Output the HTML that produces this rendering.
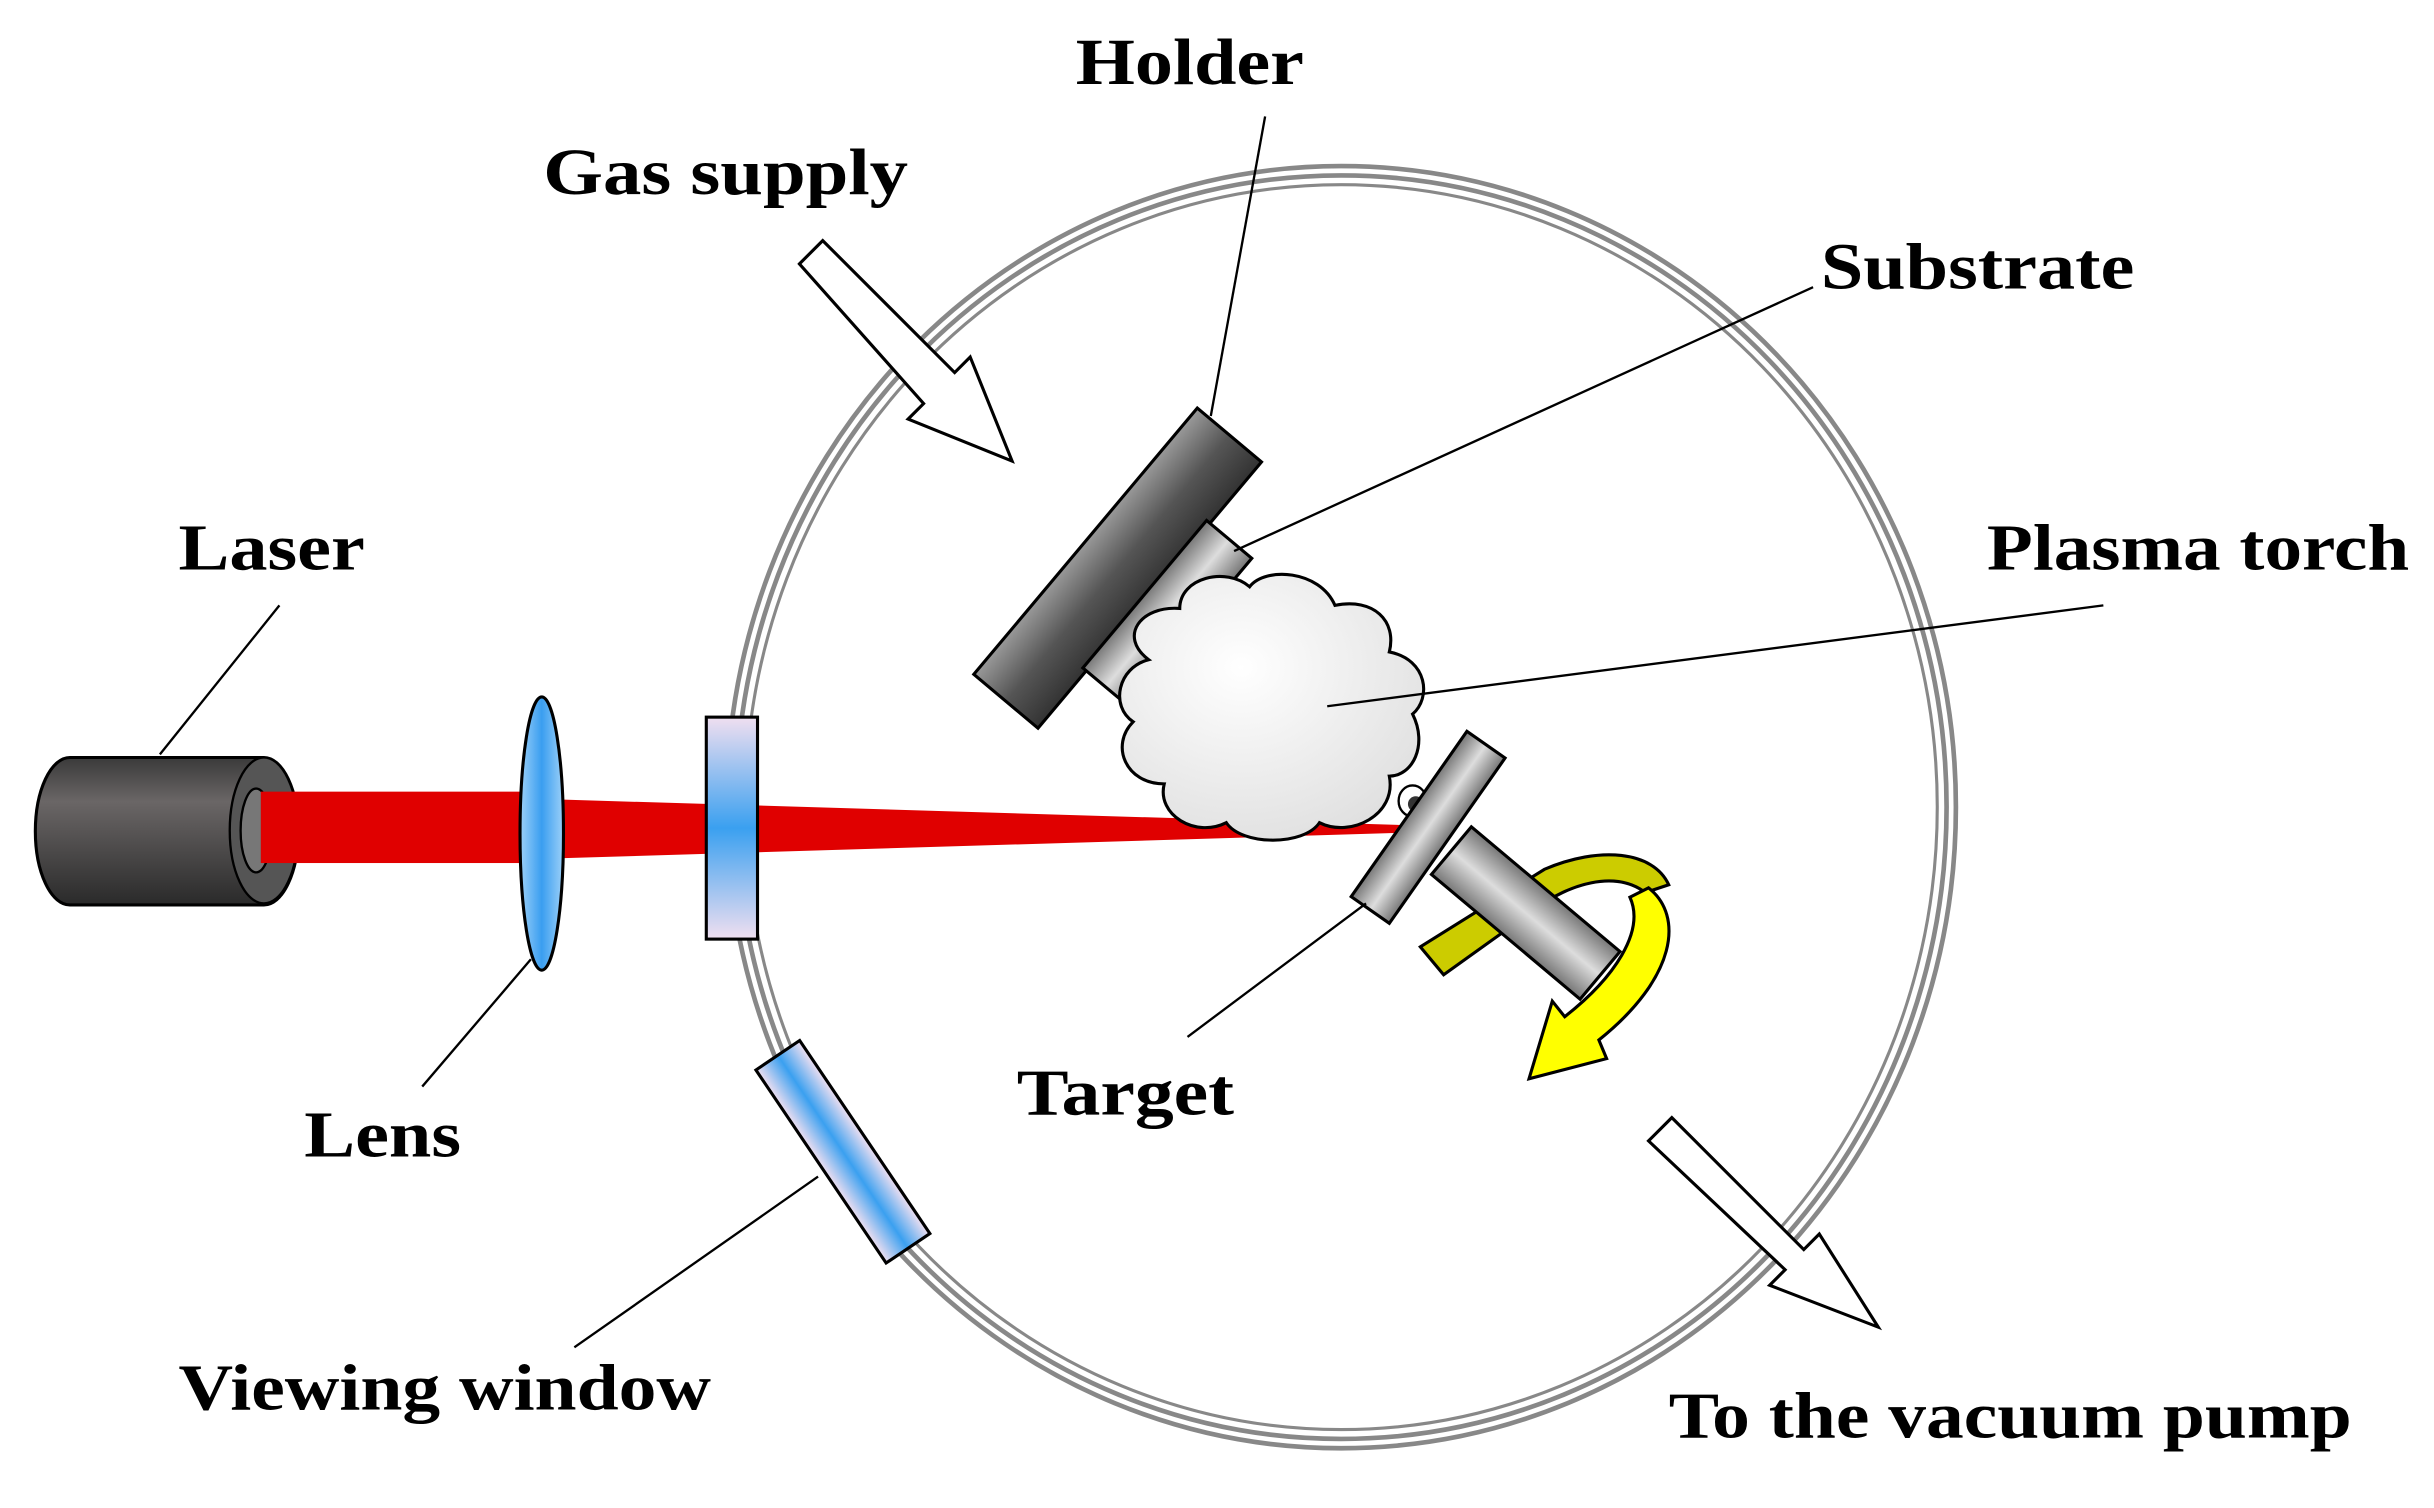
<!DOCTYPE html>
<html><head><meta charset="utf-8"><style>html,body{margin:0;padding:0;background:#fff}svg{display:block}
text{font-family:"Liberation Serif",serif;font-weight:bold;font-size:42px;fill:#000}</style></head><body>
<svg width="2434" height="1508" viewBox="0 0 1568 971.5" preserveAspectRatio="none" xmlns="http://www.w3.org/2000/svg">
<defs>
<linearGradient id="laser" x1="0" y1="0" x2="0" y2="1"><stop offset="0" stop-color="#3a3a3a"/><stop offset="0.3" stop-color="#6a6666"/><stop offset="1" stop-color="#2a2a2a"/></linearGradient>
<linearGradient id="blue" x1="0" y1="0" x2="0" y2="1"><stop offset="0" stop-color="#f0dff0"/><stop offset="0.5" stop-color="#3aa0f0"/><stop offset="1" stop-color="#f0dff0"/></linearGradient>
<linearGradient id="lens" x1="0" y1="0" x2="1" y2="0"><stop offset="0" stop-color="#9cd0f8"/><stop offset="0.5" stop-color="#3a9ef0"/><stop offset="1" stop-color="#9cd0f8"/></linearGradient>
<linearGradient id="dark" x1="0" y1="0" x2="0" y2="1"><stop offset="0" stop-color="#999"/><stop offset="0.5" stop-color="#555"/><stop offset="1" stop-color="#333"/></linearGradient>
<linearGradient id="grey" x1="0" y1="0" x2="0" y2="1"><stop offset="0" stop-color="#777"/><stop offset="0.5" stop-color="#ddd"/><stop offset="1" stop-color="#777"/></linearGradient>
<radialGradient id="cloud" cx="0.4" cy="0.35" r="0.7"><stop offset="0" stop-color="#fff"/><stop offset="1" stop-color="#e0e0e0"/></radialGradient>
</defs>
<ellipse cx="864" cy="520" rx="396" ry="413" fill="none" stroke="#888" stroke-width="3"/>
<ellipse cx="864" cy="520" rx="390" ry="407" fill="none" stroke="#888" stroke-width="3"/>
<ellipse cx="864" cy="520" rx="384" ry="401" fill="none" stroke="#888" stroke-width="2"/>
<path d="M45,488 L170,488 A22,47 0 0 1 170,583 L45,583 A22,47 0 0 1 45,488 Z" fill="url(#laser)" stroke="#000" stroke-width="2"/>
<ellipse cx="170" cy="535" rx="22" ry="47" fill="#555" stroke="#000" stroke-width="1.5"/>
<ellipse cx="165" cy="535" rx="10" ry="27" fill="#777" stroke="#000" stroke-width="1.5"/>
<rect x="168" y="510" width="168" height="46" fill="#e00000"/>
<polygon points="358,515 920,532 920,536 358,553" fill="#e00000"/>
<ellipse cx="349" cy="537" rx="14" ry="88" fill="url(#lens)" stroke="#000" stroke-width="2"/>
<rect x="455" y="462" width="33" height="143" fill="url(#blue)" stroke="#000" stroke-width="2"/>
<rect x="-75" y="-17" width="150" height="34" fill="url(#blue)" stroke="#000" stroke-width="2" transform="translate(543,742) rotate(56)"/>
<rect x="-112" y="-27" width="224" height="54" fill="url(#dark)" stroke="#000" stroke-width="2" transform="translate(720,366) rotate(-50)"/>
<rect x="-62" y="-19" width="124" height="38" fill="url(#grey)" stroke="#000" stroke-width="2" transform="translate(752,395) rotate(-50)"/>
<path d="M740,425 C720,410 735,390 760,392 C760,372 790,365 805,378 C815,365 850,367 860,390 C885,385 900,400 895,420 C920,425 922,450 910,460 C920,480 910,500 895,500 C900,525 870,540 850,530 C840,545 800,545 790,530 C770,540 745,525 750,505 C725,505 715,480 730,465 C715,455 720,430 740,425 Z" fill="url(#cloud)" stroke="#000" stroke-width="2"/>
<ellipse cx="910" cy="516" rx="9" ry="10" fill="none" stroke="#000" stroke-width="1.5"/>
<circle cx="912" cy="518" r="5" fill="#333"/>
<path d="M915,610 L995,560 C1030,545 1065,548 1075,570 L1060,575 C1040,560 1010,570 990,585 L930,628 Z" fill="#cccc00" stroke="#000" stroke-width="2"/>
<rect x="-65" y="-15" width="130" height="30" fill="url(#grey)" stroke="#000" stroke-width="2" transform="translate(920,533) rotate(-55)"/>
<rect x="0" y="-20" width="125" height="40" fill="url(#grey)" stroke="#000" stroke-width="2" transform="translate(935,548) rotate(40)"/>
<path d="M1062,572 C1085,590 1080,630 1030,670 L1035,682 L985,695 L1000,645 L1008,655 C1040,630 1060,600 1050,578 Z" fill="#ffff00" stroke="#000" stroke-width="2"/>
<polygon points="515,170 530,155 615,240 625,230 652,297 585,270 595,260" fill="#fff" stroke="#000" stroke-width="2"/>
<polygon points="1062,735 1077,720 1162,805 1172,795 1210,855 1140,828 1150,818" fill="#fff" stroke="#000" stroke-width="2"/>
<g stroke="#000" stroke-width="1.5" fill="none">
<line x1="180" y1="390" x2="103" y2="486"/>
<line x1="342" y1="618" x2="272" y2="700"/>
<line x1="527" y1="758" x2="370" y2="868"/>
<line x1="815" y1="75" x2="780" y2="268"/>
<line x1="1168" y1="185" x2="795" y2="355"/>
<line x1="1355" y1="390" x2="855" y2="455"/>
<line x1="880" y1="582" x2="765" y2="668"/>
</g>
<text x="693" y="54" textLength="147" lengthAdjust="spacingAndGlyphs">Holder</text>
<text x="350" y="125" textLength="235" lengthAdjust="spacingAndGlyphs">Gas supply</text>
<text x="1173" y="186" textLength="202" lengthAdjust="spacingAndGlyphs">Substrate</text>
<text x="115" y="367" textLength="120" lengthAdjust="spacingAndGlyphs">Laser</text>
<text x="1280" y="367" textLength="272" lengthAdjust="spacingAndGlyphs">Plasma torch</text>
<text x="655" y="718" textLength="140" lengthAdjust="spacingAndGlyphs">Target</text>
<text x="196" y="745" textLength="101" lengthAdjust="spacingAndGlyphs">Lens</text>
<text x="115" y="908" textLength="343" lengthAdjust="spacingAndGlyphs">Viewing window</text>
<text x="1075" y="926" textLength="440" lengthAdjust="spacingAndGlyphs">To the vacuum pump</text>
</svg>
</body></html>
